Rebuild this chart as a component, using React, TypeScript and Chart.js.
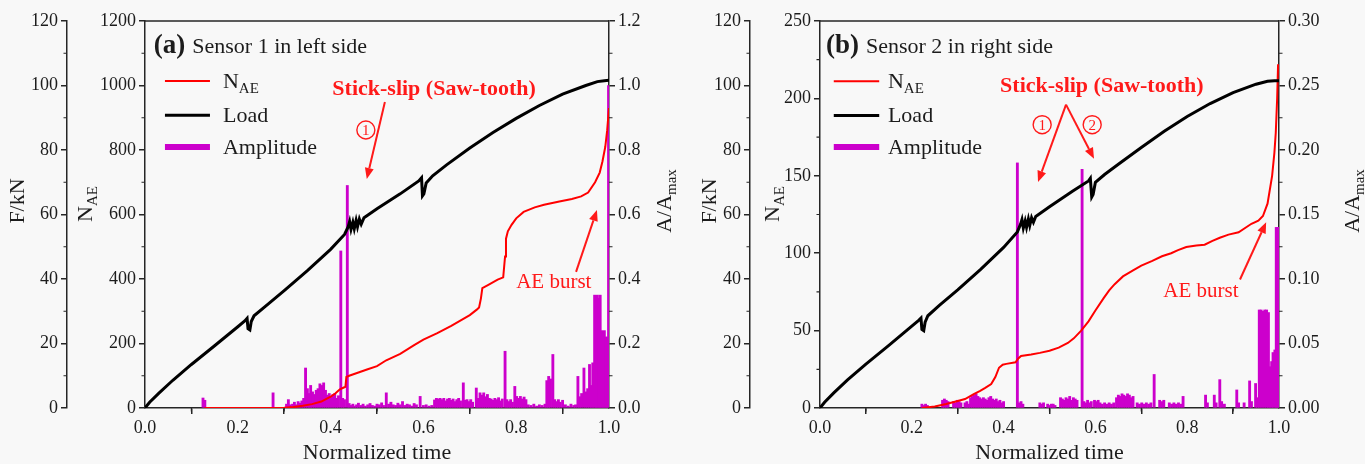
import React, { useEffect, useRef } from 'react';
import { Chart, registerables } from 'chart.js';

Chart.register(...registerables);

type Pt = [number, number];

// ---------------- tick labels ----------------
const timeTicks = [0, 0.2, 0.4, 0.6, 0.8, 1.0];
const timeMinor = [0.1, 0.3, 0.5, 0.7, 0.9];
const forceTicks = [0, 20, 40, 60, 80, 100, 120];
const forceMinor = [10, 30, 50, 70, 90, 110];
const naeTicksA = [0, 200, 400, 600, 800, 1000, 1200];
const naeMinorA = [100, 300, 500, 700, 900, 1100];
const ampTicksA = [0, 0.2, 0.4, 0.6, 0.8, 1.0, 1.2];
const ampMinorA = [0.1, 0.3, 0.5, 0.7, 0.9, 1.1];
const naeTicksB = [0, 50, 100, 150, 200, 250];
const naeMinorB = [25, 75, 125, 175, 225];
const ampTicksB = [0, 0.05, 0.1, 0.15, 0.2, 0.25, 0.3];
const ampMinorB = [0.025, 0.075, 0.125, 0.175, 0.225, 0.275];

// ---------------- panel (a): Sensor 1 ----------------
const loadA: Pt[] = [
  [0, 0], [0.01, 1.8], [0.03, 4.6], [0.06, 8.6], [0.1, 13.5], [0.15, 19.3], [0.2, 25.2], [0.215, 27],
  [0.22, 27.8], [0.222, 24.6], [0.226, 24.2], [0.229, 26.8], [0.235, 28.6], [0.26, 31.6], [0.3, 36.4],
  [0.35, 42.6], [0.4, 49.2], [0.43, 53.8], [0.438, 56.2], [0.441, 57.8], [0.444, 55.4], [0.448, 57.6],
  [0.451, 55.6], [0.455, 58.2], [0.458, 56.2], [0.462, 58.6], [0.466, 57], [0.472, 59], [0.5, 61.8],
  [0.55, 66.4], [0.59, 70.4], [0.596, 71.4], [0.598, 65.8], [0.601, 66.4], [0.606, 69.8], [0.62, 72],
  [0.65, 75.4], [0.7, 80.6], [0.75, 85.4], [0.8, 89.8], [0.85, 93.8], [0.9, 97.3], [0.95, 100],
  [0.975, 101.2], [0.99, 101.5], [1.0, 101.6],
];
const naeA: Pt[] = [
  [0.128, 0], [0.2, 0], [0.28, 0], [0.3, 1], [0.32, 3], [0.34, 7], [0.36, 12], [0.38, 20], [0.4, 35],
  [0.41, 45], [0.42, 58], [0.432, 66], [0.434, 96], [0.44, 100], [0.46, 110], [0.48, 120], [0.5, 130],
  [0.52, 148], [0.55, 168], [0.58, 195], [0.6, 212], [0.63, 232], [0.66, 255], [0.7, 288], [0.715, 305],
  [0.72, 312], [0.724, 340], [0.727, 372], [0.74, 382], [0.76, 398], [0.772, 405], [0.776, 470],
  [0.778, 525], [0.782, 548], [0.79, 568], [0.8, 588], [0.816, 608], [0.84, 622], [0.86, 630],
  [0.893, 640], [0.92, 648], [0.94, 656], [0.955, 668], [0.97, 700], [0.98, 730], [0.986, 765],
  [0.992, 810], [0.996, 860], [1.0, 930],
];
const ampA: Pt[] = [
  [0.125, 0.031], [0.129, 0.024], [0.276, 0.047], [0.305, 0.012], [0.309, 0.026], [0.313, 0.01],
  [0.318, 0.012], [0.322, 0.018], [0.326, 0.01], [0.33, 0.02], [0.334, 0.015], [0.338, 0.022],
  [0.342, 0.03], [0.346, 0.124], [0.35, 0.06], [0.354, 0.045], [0.357, 0.07], [0.361, 0.05],
  [0.365, 0.042], [0.369, 0.055], [0.373, 0.06], [0.377, 0.075], [0.381, 0.07], [0.385, 0.078],
  [0.389, 0.055], [0.393, 0.04], [0.397, 0.045], [0.401, 0.035], [0.405, 0.042], [0.409, 0.045],
  [0.413, 0.03], [0.417, 0.038], [0.422, 0.487], [0.426, 0.03], [0.43, 0.026], [0.436, 0.69],
  [0.44, 0.014], [0.444, 0.008], [0.448, 0.012], [0.452, 0.006], [0.456, 0.01], [0.46, 0.015],
  [0.465, 0.008], [0.47, 0.012], [0.475, 0.006], [0.48, 0.01], [0.485, 0.014], [0.49, 0.008],
  [0.495, 0.006], [0.5, 0.012], [0.505, 0.01], [0.51, 0.016], [0.514, 0.008], [0.52, 0.047],
  [0.525, 0.012], [0.53, 0.018], [0.535, 0.01], [0.54, 0.008], [0.545, 0.015], [0.55, 0.01],
  [0.555, 0.02], [0.56, 0.008], [0.565, 0.012], [0.57, 0.01], [0.575, 0.006], [0.58, 0.014],
  [0.585, 0.01], [0.593, 0.036], [0.6, 0.008], [0.606, 0.01], [0.612, 0.006], [0.618, 0.008],
  [0.624, 0.025], [0.628, 0.03], [0.632, 0.028], [0.636, 0.03], [0.64, 0.026], [0.644, 0.03],
  [0.648, 0.022], [0.652, 0.028], [0.656, 0.03], [0.66, 0.024], [0.664, 0.028], [0.668, 0.02],
  [0.672, 0.026], [0.676, 0.03], [0.68, 0.022], [0.686, 0.078], [0.69, 0.024], [0.694, 0.026],
  [0.698, 0.02], [0.702, 0.026], [0.706, 0.018], [0.714, 0.062], [0.718, 0.03], [0.722, 0.047],
  [0.726, 0.04], [0.73, 0.047], [0.734, 0.035], [0.738, 0.042], [0.742, 0.03], [0.746, 0.028],
  [0.75, 0.024], [0.754, 0.03], [0.758, 0.026], [0.762, 0.032], [0.766, 0.022], [0.77, 0.028],
  [0.776, 0.176], [0.78, 0.026], [0.784, 0.02], [0.788, 0.026], [0.792, 0.018], [0.797, 0.067],
  [0.801, 0.036], [0.805, 0.03], [0.809, 0.036], [0.813, 0.028], [0.817, 0.034], [0.821, 0.026],
  [0.826, 0.01], [0.832, 0.008], [0.838, 0.012], [0.844, 0.006], [0.85, 0.01], [0.856, 0.008],
  [0.862, 0.012], [0.866, 0.085], [0.87, 0.098], [0.874, 0.09], [0.879, 0.166], [0.883, 0.026],
  [0.887, 0.02], [0.891, 0.026], [0.895, 0.018], [0.9, 0.024], [0.906, 0.01], [0.912, 0.006],
  [0.918, 0.012], [0.924, 0.008], [0.928, 0.01], [0.933, 0.098], [0.937, 0.035], [0.941, 0.045],
  [0.946, 0.124], [0.95, 0.05], [0.954, 0.06], [0.958, 0.135], [0.962, 0.07], [0.965, 0.14],
  [0.969, 0.35], [0.972, 0.33], [0.975, 0.35], [0.978, 0.34], [0.981, 0.35], [0.984, 0.24],
  [0.987, 0.23], [0.99, 0.24], [0.993, 0.22], [0.996, 0.22], [0.999, 1.0],
];

// ---------------- panel (b): Sensor 2 ----------------
const loadB: Pt[] = [
  [0, 0], [0.01, 1.8], [0.03, 4.7], [0.06, 8.7], [0.1, 13.6], [0.15, 19.4], [0.2, 25.4], [0.215, 27.2],
  [0.22, 27.9], [0.222, 24.4], [0.226, 24], [0.229, 26.6], [0.235, 28.6], [0.26, 31.8], [0.3, 36.6],
  [0.35, 43], [0.4, 49.8], [0.43, 54.6], [0.437, 57], [0.44, 58.4], [0.443, 55.8], [0.447, 58],
  [0.45, 56], [0.454, 58.6], [0.457, 56.6], [0.461, 59], [0.465, 57.6], [0.47, 59.4], [0.5, 62.4],
  [0.55, 67.2], [0.585, 70.4], [0.589, 71.2], [0.592, 65.4], [0.595, 66.2], [0.6, 70], [0.62, 72.4],
  [0.65, 75.6], [0.7, 80.8], [0.75, 85.8], [0.8, 90.4], [0.85, 94.4], [0.9, 97.8], [0.95, 100.4],
  [0.975, 101.3], [0.99, 101.5], [1.0, 101.5],
];
const naeB: Pt[] = [
  [0.222, 0], [0.25, 1], [0.275, 2.6], [0.3, 4.5], [0.316, 5.8], [0.335, 9], [0.349, 11], [0.36, 13],
  [0.373, 15.5], [0.382, 20], [0.39, 26], [0.398, 28], [0.406, 28.5], [0.426, 29.5], [0.432, 32],
  [0.438, 33.6], [0.46, 34.5], [0.479, 35.6], [0.5, 37], [0.52, 39], [0.54, 42], [0.553, 45],
  [0.569, 50], [0.585, 56], [0.6, 63], [0.618, 71], [0.63, 76], [0.642, 80], [0.66, 85], [0.683, 89],
  [0.7, 92], [0.724, 95], [0.745, 98], [0.765, 100], [0.78, 102], [0.798, 104], [0.82, 105],
  [0.838, 105.5], [0.855, 108], [0.871, 110], [0.89, 112], [0.912, 113.5], [0.94, 119], [0.955, 121],
  [0.965, 124], [0.975, 132], [0.985, 150], [0.99, 165], [0.993, 178], [0.996, 200], [0.998, 222],
];
const ampB: Pt[] = [
  [0.222, 0.003], [0.226, 0.002], [0.23, 0.003], [0.234, 0.002], [0.267, 0.006], [0.271, 0.007],
  [0.275, 0.006], [0.279, 0.005], [0.291, 0.005], [0.295, 0.004], [0.299, 0.006], [0.303, 0.005],
  [0.307, 0.004], [0.316, 0.004], [0.32, 0.005], [0.324, 0.003], [0.328, 0.008], [0.332, 0.009],
  [0.336, 0.01], [0.34, 0.011], [0.344, 0.009], [0.348, 0.008], [0.352, 0.007], [0.356, 0.008],
  [0.36, 0.007], [0.364, 0.006], [0.368, 0.008], [0.372, 0.009], [0.376, 0.007], [0.38, 0.006],
  [0.384, 0.007], [0.388, 0.005], [0.392, 0.006], [0.396, 0.004], [0.4, 0.005], [0.43, 0.19],
  [0.434, 0.004], [0.438, 0.005], [0.442, 0.003], [0.479, 0.004], [0.483, 0.003], [0.487, 0.004],
  [0.496, 0.003], [0.5, 0.002], [0.504, 0.003], [0.508, 0.003], [0.512, 0.002], [0.524, 0.008],
  [0.528, 0.007], [0.532, 0.006], [0.536, 0.008], [0.54, 0.007], [0.544, 0.009], [0.548, 0.006],
  [0.552, 0.008], [0.556, 0.007], [0.56, 0.006], [0.571, 0.185], [0.575, 0.005], [0.579, 0.004],
  [0.583, 0.006], [0.587, 0.004], [0.591, 0.005], [0.598, 0.006], [0.602, 0.005], [0.606, 0.006],
  [0.61, 0.004], [0.615, 0.003], [0.62, 0.004], [0.625, 0.003], [0.63, 0.004], [0.635, 0.003],
  [0.64, 0.004], [0.646, 0.008], [0.65, 0.01], [0.654, 0.009], [0.658, 0.011], [0.662, 0.01],
  [0.666, 0.009], [0.67, 0.011], [0.674, 0.01], [0.678, 0.008], [0.682, 0.009], [0.691, 0.004],
  [0.696, 0.003], [0.701, 0.004], [0.706, 0.003], [0.711, 0.004], [0.716, 0.003], [0.721, 0.004],
  [0.728, 0.026], [0.74, 0.006], [0.745, 0.005], [0.749, 0.006], [0.761, 0.004], [0.766, 0.003],
  [0.771, 0.004], [0.776, 0.003], [0.781, 0.004], [0.786, 0.003], [0.791, 0.009], [0.84, 0.01],
  [0.844, 0.004], [0.859, 0.01], [0.863, 0.004], [0.871, 0.022], [0.875, 0.005], [0.881, 0.003],
  [0.908, 0.014], [0.912, 0.004], [0.924, 0.004], [0.936, 0.021], [0.94, 0.005], [0.949, 0.019],
  [0.953, 0.008], [0.957, 0.076], [0.961, 0.076], [0.965, 0.075], [0.969, 0.076], [0.973, 0.076],
  [0.977, 0.074], [0.98, 0.032], [0.984, 0.036], [0.987, 0.043], [0.991, 0.045], [0.994, 0.14],
  [0.997, 0.14], [1.0, 0.14],
];

// ---------------- styling ----------------
const FONT = '"Liberation Serif", "Times New Roman", serif';
const AXIS = '#262626';
const TEXT = '#1c1c1c';
const RED = '#ff0000';
const RED_TEXT = '#ff1a1a';
const MAGENTA = '#cc00cc';
const H = 464;

interface Panel {
  load: Pt[]; nae: Pt[]; amp: Pt[];
  naeTicks: number[]; naeMinor: number[]; naeMax: number;
  ampTicks: number[]; ampMinor: number[]; ampMax: number; ampDec: number;
  letter: string; caption: string;
  canvasW: number; fW: number; nW: number; aW: number;
  axisTitleX: { f: number; n: number; a: number };
  ann: {
    title: Pt; legLine: [number, number]; legText: number; legRows: number[];
    stick: Pt; circles: [number, number, string][]; arrows: [number, number, number, number][];
    burst: Pt; burstArrow: [number, number, number, number];
  };
}

const panelA: Panel = {
  load: loadA, nae: naeA, amp: ampA,
  naeTicks: naeTicksA, naeMinor: naeMinorA, naeMax: 1200,
  ampTicks: ampTicksA, ampMinor: ampMinorA, ampMax: 1.2, ampDec: 1,
  letter: '(a)', caption: 'Sensor 1 in left side',
  canvasW: 690, fW: 67, nW: 78, aW: 81,
  axisTitleX: { f: 18, n: 86, a: 665 },
  ann: {
    title: [0.019, 1122], legLine: [0.043, 0.14], legText: 0.168, legRows: [1014, 908, 809],
    stick: [0.623, 989], circles: [[0.476, 862, '1']], arrows: [[0.517, 949, 0.478, 710]],
    burst: [0.881, 388], burstArrow: [0.929, 422, 0.974, 614],
  },
};
const panelB: Panel = {
  load: loadB, nae: naeB, amp: ampB,
  naeTicks: naeTicksB, naeMinor: naeMinorB, naeMax: 250,
  ampTicks: ampTicksB, ampMinor: ampMinorB, ampMax: 0.3, ampDec: 2,
  letter: '(b)', caption: 'Sensor 2 in right side',
  canvasW: 675, fW: 60, nW: 70, aW: 86,
  axisTitleX: { f: 20, n: 83, a: 663 },
  ann: {
    title: [0.013, 234], legLine: [0.03, 0.129], legText: 0.148, legRows: [211, 189, 168.6],
    stick: [0.614, 208], circles: [[0.484, 183, '1'], [0.593, 183, '2']],
    arrows: [[0.536, 196, 0.475, 146], [0.536, 196, 0.597, 161]],
    burst: [0.83, 75], burstArrow: [0.915, 83, 0.972, 120],
  },
};

type Seg = { s: string; sub?: boolean };
const parseRich = (label: string): Seg[] => {
  const i = label.indexOf('_');
  if (i < 0) return [{ s: label }];
  return [{ s: label.slice(0, i) }, { s: label.slice(i + 1), sub: true }];
};

function drawRich(ctx: CanvasRenderingContext2D, segs: Seg[], x: number, y: number, size: number,
  color: string, align: 'left' | 'center', rotate = false, weight = 'normal') {
  const mainF = `${weight} ${size}px ${FONT}`;
  const subF = `${weight} ${Math.round(size * 0.66)}px ${FONT}`;
  ctx.save();
  ctx.translate(x, y);
  if (rotate) ctx.rotate(-Math.PI / 2);
  ctx.fillStyle = color;
  ctx.textBaseline = 'middle';
  ctx.textAlign = 'left';
  const widths = segs.map((g) => { ctx.font = g.sub ? subF : mainF; return ctx.measureText(g.s).width; });
  const total = widths.reduce((a, b) => a + b, 0);
  let cx = align === 'center' ? -total / 2 : 0;
  segs.forEach((g, i) => {
    ctx.font = g.sub ? subF : mainF;
    ctx.fillText(g.s, cx, g.sub ? size * 0.32 : 0);
    cx += widths[i];
  });
  ctx.restore();
  return total;
}

function arrow(ctx: CanvasRenderingContext2D, x1: number, y1: number, x2: number, y2: number) {
  const ang = Math.atan2(y2 - y1, x2 - x1);
  const hl = 11, hw = 4.5;
  const bx = x2 - hl * Math.cos(ang), by = y2 - hl * Math.sin(ang);
  ctx.strokeStyle = RED_TEXT; ctx.fillStyle = RED_TEXT; ctx.lineWidth = 2;
  ctx.beginPath(); ctx.moveTo(x1, y1); ctx.lineTo(bx, by); ctx.stroke();
  ctx.beginPath();
  ctx.moveTo(x2, y2);
  ctx.lineTo(bx + hw * Math.sin(ang), by - hw * Math.cos(ang));
  ctx.lineTo(bx - hw * Math.sin(ang), by + hw * Math.cos(ang));
  ctx.closePath(); ctx.fill();
}

function makeDecor(p: Panel) {
  return {
    id: 'decor',
    afterDraw(chart: any) {
      const ctx: CanvasRenderingContext2D = chart.ctx;
      const { chartArea } = chart;
      const sx = chart.scales.x, sF = chart.scales.yF, sN = chart.scales.yN, sA = chart.scales.yA;
      const px = (t: number) => sx.getPixelForValue(t);
      const py = (v: number) => sN.getPixelForValue(v);
      ctx.save();
      // top frame line
      ctx.strokeStyle = AXIS; ctx.lineWidth = 1.5;
      ctx.beginPath(); ctx.moveTo(chartArea.left, chartArea.top); ctx.lineTo(chartArea.right, chartArea.top); ctx.stroke();
      // minor ticks
      ctx.lineWidth = 1.2;
      const ml = 3.5;
      ctx.beginPath();
      timeMinor.forEach((v) => { const x = px(v); ctx.moveTo(x, sx.top); ctx.lineTo(x, sx.top + ml); });
      forceMinor.forEach((v) => { const y = sF.getPixelForValue(v); ctx.moveTo(sF.right, y); ctx.lineTo(sF.right - ml, y); });
      p.naeMinor.forEach((v) => { const y = sN.getPixelForValue(v); ctx.moveTo(sN.right, y); ctx.lineTo(sN.right - ml, y); });
      p.ampMinor.forEach((v) => { const y = sA.getPixelForValue(v); ctx.moveTo(sA.left, y); ctx.lineTo(sA.left + ml, y); });
      ctx.stroke();

      // axis titles
      const cy = 201;
      drawRich(ctx, [{ s: 'F/kN' }], p.axisTitleX.f, cy, 22, TEXT, 'center', true);
      drawRich(ctx, parseRich('N_AE'), p.axisTitleX.n, cy + 3, 22, TEXT, 'center', true);
      drawRich(ctx, parseRich('A/A_max'), p.axisTitleX.a, cy, 22, TEXT, 'center', true);
      drawRich(ctx, [{ s: 'Normalized time' }], (chartArea.left + chartArea.right) / 2, 453, 22, TEXT, 'center');

      const a = p.ann;
      // panel title
      const w = drawRich(ctx, [{ s: p.letter }], px(a.title[0]), py(a.title[1]), 27, TEXT, 'left', false, 'bold');
      drawRich(ctx, [{ s: p.caption }], px(a.title[0]) + w + 7, py(a.title[1]) + 1, 22, TEXT, 'left');

      // legend
      const ds = chart.data.datasets;
      const legendOrder = [1, 2, 0];
      legendOrder.forEach((di, row) => {
        const d = ds[di];
        const y = py(a.legRows[row]);
        ctx.strokeStyle = d.type === 'bar' ? d.backgroundColor : d.borderColor;
        ctx.lineWidth = d.type === 'bar' ? 6 : d.borderWidth;
        ctx.lineCap = 'butt';
        ctx.beginPath(); ctx.moveTo(px(a.legLine[0]), y); ctx.lineTo(px(a.legLine[1]), y); ctx.stroke();
        drawRich(ctx, parseRich(d.label), px(a.legText), y + 1, 22, TEXT, 'left');
      });

      // annotations
      drawRich(ctx, [{ s: 'Stick-slip (Saw-tooth)' }], px(a.stick[0]), py(a.stick[1]), 22, RED_TEXT, 'center', false, 'bold');
      a.circles.forEach(([t, v, s]) => {
        const x = px(t), y = py(v);
        ctx.strokeStyle = RED_TEXT; ctx.lineWidth = 1.4;
        ctx.beginPath(); ctx.arc(x, y, 9, 0, Math.PI * 2); ctx.stroke();
        ctx.fillStyle = RED_TEXT; ctx.font = `15px ${FONT}`; ctx.textAlign = 'center'; ctx.textBaseline = 'middle';
        ctx.fillText(s, x, y + 1);
      });
      a.arrows.forEach(([t1, v1, t2, v2]) => arrow(ctx, px(t1), py(v1), px(t2), py(v2)));
      drawRich(ctx, [{ s: 'AE burst' }], px(a.burst[0]), py(a.burst[1]), 21, RED_TEXT, 'center');
      const [b1, b2, b3, b4] = a.burstArrow;
      arrow(ctx, px(b1), py(b2), px(b3), py(b4));
      ctx.restore();
    },
  };
}

const toXY = (arr: Pt[]) => arr.map(([x, y]) => ({ x, y }));

function axisCommon(ticksArr: number[], fmt: (v: number) => string) {
  return {
    type: 'linear' as const,
    afterBuildTicks: (s: any) => { s.ticks = ticksArr.map((value) => ({ value })); },
    ticks: {
      autoSkip: false, maxRotation: 0, padding: 3, color: TEXT,
      font: { family: FONT, size: 18 },
      callback: (v: any) => fmt(Number(v)),
    },
    grid: { drawOnChartArea: false, drawTicks: true, tickLength: 6, color: AXIS, lineWidth: 1.5 },
    border: { display: true, color: AXIS, width: 1.5 },
  };
}

function makeChart(canvas: HTMLCanvasElement, p: Panel) {
  return new Chart(canvas, {
    type: 'line',
    data: {
      datasets: [
        {
          type: 'bar', label: 'Amplitude', data: toXY(p.amp) as any, yAxisID: 'yA', xAxisID: 'x',
          backgroundColor: MAGENTA, borderWidth: 0, barThickness: 2.2, grouped: false, order: 3,
        } as any,
        {
          type: 'line', label: 'N_AE', data: toXY(p.nae) as any, yAxisID: 'yN', xAxisID: 'x',
          borderColor: RED, borderWidth: 2, pointRadius: 0, fill: false, tension: 0, order: 2,
        },
        {
          type: 'line', label: 'Load', data: toXY(p.load) as any, yAxisID: 'yF', xAxisID: 'x',
          borderColor: '#000000', borderWidth: 3, pointRadius: 0, fill: false, tension: 0, order: 1,
        },
      ],
    },
    options: {
      animation: false,
      responsive: false,
      maintainAspectRatio: false,
      devicePixelRatio: 1,
      events: [],
      layout: { padding: { top: 21, left: 0, right: 0, bottom: 0 } },
      plugins: { legend: { display: false }, tooltip: { enabled: false }, title: { display: false } },
      scales: {
        x: {
          ...axisCommon(timeTicks, (v) => v.toFixed(1)),
          position: 'bottom', min: 0, max: 1, offset: false,
          afterFit: (s: any) => { s.height = 56; },
        },
        yF: {
          ...axisCommon(forceTicks, (v) => String(v)),
          position: 'left', weight: 2, min: 0, max: 120,
          afterFit: (s: any) => { s.width = p.fW; },
        },
        yN: {
          ...axisCommon(p.naeTicks, (v) => String(v)),
          position: 'left', weight: 1, min: 0, max: p.naeMax,
          afterFit: (s: any) => { s.width = p.nW; },
        },
        yA: {
          ...axisCommon(p.ampTicks, (v) => v.toFixed(p.ampDec)),
          position: 'right', min: 0, max: p.ampMax,
          afterFit: (s: any) => { s.width = p.aW; },
        },
      } as any,
    },
    plugins: [makeDecor(p)],
  });
}

function PanelChart({ panel, left }: { panel: Panel; left: number }) {
  const ref = useRef<HTMLCanvasElement>(null);
  useEffect(() => {
    if (!ref.current) return;
    const chart = makeChart(ref.current, panel);
    return () => chart.destroy();
  }, [panel]);
  return (
    <canvas
      ref={ref}
      width={panel.canvasW}
      height={H}
      style={{ position: 'absolute', left, top: 0, width: panel.canvasW, height: H }}
    />
  );
}

export default function App() {
  return (
    <div style={{ position: 'absolute', left: 0, top: 0, width: 1365, height: H, background: '#f8f8f8', overflow: 'hidden' }}>
      <PanelChart panel={panelA} left={0} />
      <PanelChart panel={panelB} left={690} />
    </div>
  );
}
